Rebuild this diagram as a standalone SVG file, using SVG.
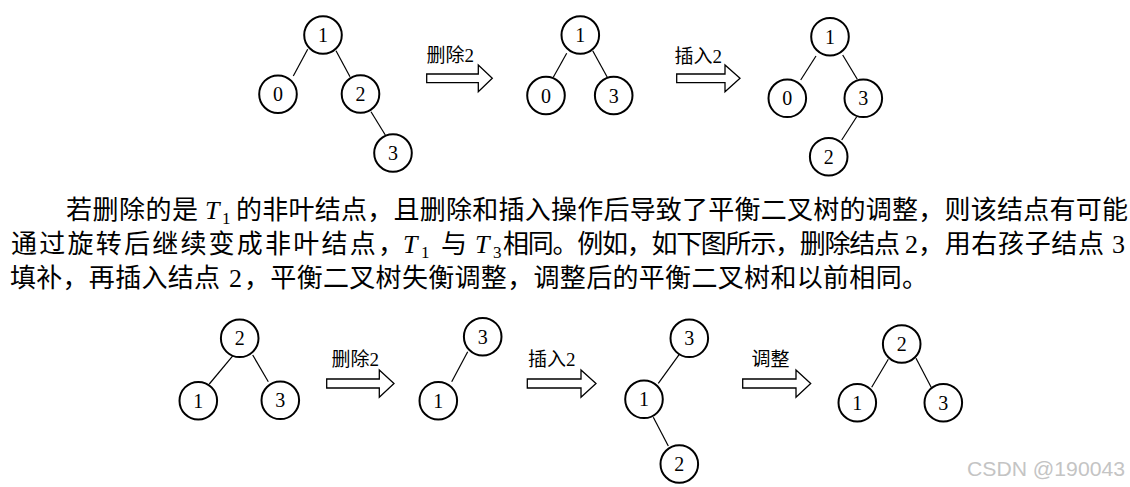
<svg xmlns="http://www.w3.org/2000/svg" width="1130" height="487" viewBox="0 0 1130 487">
<style>
.node circle{fill:#fff;stroke:#000;stroke-width:2}
.node text{font-family:'Liberation Serif',serif;font-size:20px;text-anchor:middle;fill:#000}
.edges line{stroke:#000;stroke-width:1.2}
.arrow{fill:#fff;stroke:#000;stroke-width:1.3}
.lbl{font-family:'Liberation Serif','Noto Sans CJK SC',sans-serif;font-size:19px;fill:#000}
.para{font-family:'Liberation Serif','Noto Sans CJK SC',sans-serif;font-size:26px;fill:#000}
.it{font-style:italic;font-size:26px}
.sub{font-size:17px}
.wm{font-family:'Liberation Sans',Arial,sans-serif;font-size:20px;fill:#c4c4c4}
</style>
<rect width="1130" height="487" fill="#fff"/>
<g class="edges" id="connectors">
<line x1="307.7" y1="49.3" x2="293.3" y2="76"/>
<line x1="336" y1="50.7" x2="350" y2="76.7"/>
<line x1="371" y1="111.7" x2="385.3" y2="135"/>
<line x1="566.7" y1="53.3" x2="553.3" y2="77.3"/>
<line x1="592.7" y1="50.7" x2="607.3" y2="77.3"/>
<line x1="816" y1="56" x2="800.7" y2="80"/>
<line x1="842.7" y1="55" x2="857.3" y2="79.3"/>
<line x1="856.7" y1="116.7" x2="841.7" y2="140"/>
<line x1="234" y1="354.3" x2="209.3" y2="384"/>
<line x1="252.7" y1="355" x2="268.3" y2="381.7"/>
<line x1="467.7" y1="351.7" x2="451.7" y2="381.7"/>
<line x1="680" y1="353.3" x2="658.3" y2="383.3"/>
<line x1="653.3" y1="417.3" x2="668.3" y2="446"/>
<line x1="888.3" y1="359.3" x2="871.7" y2="387.3"/>
<line x1="916" y1="358.3" x2="931.7" y2="388.3"/>
</g>
<g id="arrows">
<path class="arrow" d="M426.7,74 H478.3 V65 L492.3,78.3 L478.3,91.7 V82.7 H426.7 Z"/>
<path class="arrow" d="M676.7,74 H725 V65 L740,78.3 L725,91.7 V82.7 H676.7 Z"/>
<path class="arrow" d="M326.7,379 H379.3 V370 L394,383.6 L379.3,397.3 V388 H326.7 Z"/>
<path class="arrow" d="M527.3,379 H581 V370 L596,383.6 L581,397.3 V388 H527.3 Z"/>
<path class="arrow" d="M742.7,379 H796 V370 L810.7,383.6 L796,397.3 V388 H742.7 Z"/>
<text class="lbl" x="426.5" y="62">删除2</text>
<text class="lbl" x="674.5" y="63">插入2</text>
<text class="lbl" x="331.5" y="366">删除2</text>
<text class="lbl" x="528" y="366">插入2</text>
<text class="lbl" x="751.5" y="366">调整</text>
</g>
<g id="tree1">
<g class="node" id="t1n1"><circle cx="323" cy="35" r="18.8"/><text x="323" y="42">1</text></g>
<g class="node" id="t1n0"><circle cx="278" cy="94.2" r="18.8"/><text x="278" y="101.2">0</text></g>
<g class="node" id="t1n2"><circle cx="360.5" cy="94" r="18.8"/><text x="360.5" y="101">2</text></g>
<g class="node" id="t1n3"><circle cx="393" cy="153" r="18.8"/><text x="393" y="160">3</text></g>
</g>
<g id="tree2">
<g class="node" id="t2n1"><circle cx="580.3" cy="35" r="18.8"/><text x="580.3" y="42">1</text></g>
<g class="node" id="t2n0"><circle cx="546" cy="95.5" r="18.8"/><text x="546" y="102.5">0</text></g>
<g class="node" id="t2n3"><circle cx="613.7" cy="95.5" r="18.8"/><text x="613.7" y="102.5">3</text></g>
</g>
<g id="tree3">
<g class="node" id="t3n1"><circle cx="830" cy="36.7" r="18.8"/><text x="830" y="43.7">1</text></g>
<g class="node" id="t3n0"><circle cx="787.3" cy="98.3" r="18.8"/><text x="787.3" y="105.3">0</text></g>
<g class="node" id="t3n3"><circle cx="863.3" cy="98.3" r="18.8"/><text x="863.3" y="105.3">3</text></g>
<g class="node" id="t3n2"><circle cx="828.7" cy="156.7" r="18.8"/><text x="828.7" y="163.7">2</text></g>
</g>
<g id="tree4">
<g class="node" id="t4n2"><circle cx="239.7" cy="338.3" r="18.8"/><text x="239.7" y="345.3">2</text></g>
<g class="node" id="t4n1"><circle cx="198.3" cy="400.7" r="18.8"/><text x="198.3" y="407.7">1</text></g>
<g class="node" id="t4n3"><circle cx="280.3" cy="400.3" r="18.8"/><text x="280.3" y="407.3">3</text></g>
</g>
<g id="tree5">
<g class="node" id="t5n3"><circle cx="482.7" cy="336.7" r="18.8"/><text x="482.7" y="343.7">3</text></g>
<g class="node" id="t5n1"><circle cx="438.3" cy="400.7" r="18.8"/><text x="438.3" y="407.7">1</text></g>
</g>
<g id="tree6">
<g class="node" id="t6n3"><circle cx="689.3" cy="338.3" r="18.8"/><text x="689.3" y="345.3">3</text></g>
<g class="node" id="t6n1"><circle cx="644" cy="399.3" r="18.8"/><text x="644" y="406.3">1</text></g>
<g class="node" id="t6n2"><circle cx="679.3" cy="464" r="18.8"/><text x="679.3" y="471">2</text></g>
</g>
<g id="tree7">
<g class="node" id="t7n2"><circle cx="901.7" cy="344" r="18.8"/><text x="901.7" y="351">2</text></g>
<g class="node" id="t7n1"><circle cx="857.3" cy="402.7" r="18.8"/><text x="857.3" y="409.7">1</text></g>
<g class="node" id="t7n3"><circle cx="943.3" cy="402.7" r="18.8"/><text x="943.3" y="409.7">3</text></g>
</g>
<g id="paragraph" class="para">
<text x="66" y="219" textLength="132" lengthAdjust="spacing">若删除的是</text>
<text class="it" x="205" y="219">T</text>
<text class="sub" x="222" y="224">1</text>
<text x="236" y="219" textLength="892" lengthAdjust="spacing">的非叶结点，且删除和插入操作后导致了平衡二叉树的调整，则该结点有可能</text>
<text x="11" y="253" textLength="393" lengthAdjust="spacing">通过旋转后继续变成非叶结点，</text>
<text class="it" x="403" y="253">T</text>
<text class="sub" x="421" y="258">1</text>
<text x="441" y="253">与</text>
<text class="it" x="475" y="253">T</text>
<text class="sub" x="493" y="258">3</text>
<text x="503" y="253" textLength="397" lengthAdjust="spacing">相同。例如，如下图所示，删除结点</text>
<text x="905" y="253">2</text>
<text x="918" y="253" textLength="186" lengthAdjust="spacing">，用右孩子结点</text>
<text x="1112" y="253">3</text>
<text x="10" y="287" textLength="210" lengthAdjust="spacing">填补，再插入结点</text>
<text x="229" y="287">2</text>
<text x="244" y="287" textLength="684" lengthAdjust="spacing">，平衡二叉树失衡调整，调整后的平衡二叉树和以前相同。</text>
</g>
<text class="wm" x="967" y="476" textLength="158" lengthAdjust="spacingAndGlyphs">CSDN @190043</text>
</svg>
